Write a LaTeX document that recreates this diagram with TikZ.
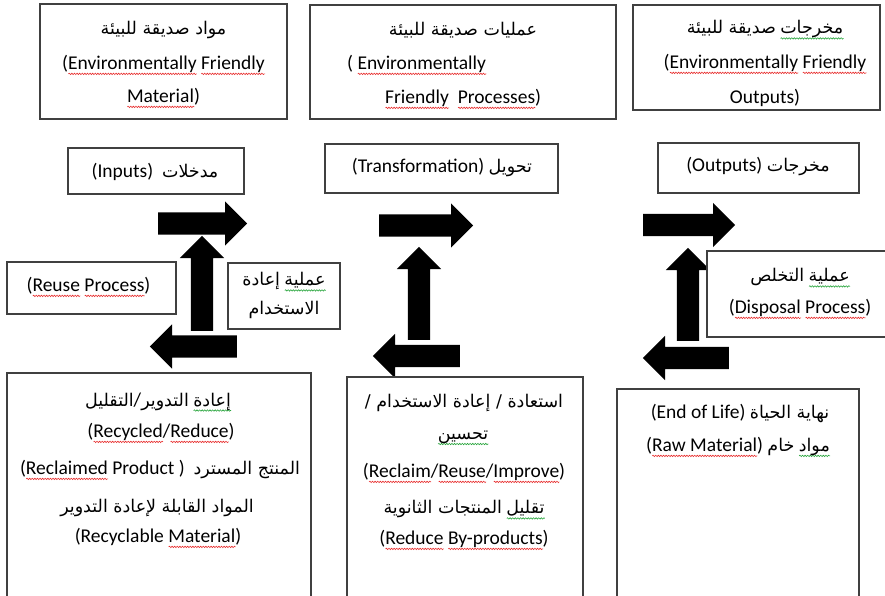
\documentclass[tikz,border=0pt]{standalone}
\usepackage{fontspec}
\setmainfont{Carlito}
\newfontfamily\arabicfont[Script=Arabic]{DejaVu Sans}
\TeXXeTstate=1
\usetikzlibrary{shapes.arrows,decorations.pathmorphing}

\definecolor{wavered}{RGB}{232,45,45}
\definecolor{wavegreen}{RGB}{40,165,60}
\definecolor{edge}{RGB}{64,64,64}

% wavy proof-reading underline below a word
\newsavebox\wavebox
\newlength\wavelen
\newcommand\wavy[2]{\sbox\wavebox{#2}\setlength\wavelen{\wd\wavebox}%
  \hbox{\rlap{\tikz[baseline=0pt]\draw[#1,line width=0.6pt,decorate,
      decoration={snake,amplitude=0.7pt,segment length=2.6pt}]
      (0pt,-4.5pt) -- (\wavelen,-4.5pt);}\usebox\wavebox}}
\newcommand\rw[1]{\wavy{wavered}{#1}}
\newcommand\gw[1]{\wavy{wavegreen}{#1}}
% right-to-left Arabic run
\newcommand\AR[1]{{\arabicfont\fontsize{17.5}{20}\selectfont\beginR #1\endR}}

\begin{document}
\begin{tikzpicture}[x=1pt,y=-1pt,
  box/.style={draw=edge,line width=1.1pt,fill=white,inner sep=0pt},
  txt/.style={inner sep=0pt,font=\fontsize{19.5}{23}\selectfont},
  blockarrow/.style={single arrow,fill=black,draw=none,inner sep=11pt,
    minimum width=0pt,single arrow head extend=11pt,single arrow head indent=0pt,
    anchor=tail}]
\useasboundingbox (0,0) rectangle (885,595);

% block arrows of the three loops, placed by their tails
\node[blockarrow,minimum height=89pt] (r1) at (158,223.5) {};
\node[blockarrow,minimum height=95pt,shape border rotate=90] (u1) at (202,331) {};
\node[blockarrow,minimum height=87pt,shape border rotate=180] (l1) at (237,346.5) {};
\node[blockarrow,minimum height=94pt] (r2) at (379,225.5) {};
\node[blockarrow,minimum height=93pt,shape border rotate=90] (u2) at (419,340) {};
\node[blockarrow,minimum height=87pt,shape border rotate=180] (l2) at (460,356) {};
\node[blockarrow,minimum height=92pt] (r3) at (643,225) {};
\node[blockarrow,minimum height=93pt,shape border rotate=90] (u3) at (688,341) {};
\node[blockarrow,minimum height=86pt,shape border rotate=180] (l3) at (729,358) {};

% frames
\node[box,minimum width=247pt,minimum height=115pt] (material) at (163.5,61.5) {};
\node[box,minimum width=306pt,minimum height=114pt] (processes) at (463,62) {};
\node[box,minimum width=247pt,minimum height=105pt] (outputsgreen) at (756.5,57.5) {};
\node[box,minimum width=176pt,minimum height=46pt] (inputs) at (156,171) {};
\node[box,minimum width=233pt,minimum height=49pt] (transform) at (441.5,168.5) {};
\node[box,minimum width=201pt,minimum height=50pt] (outputs) at (758.5,168) {};
\node[box,minimum width=169pt,minimum height=52pt] (reuse) at (91.5,288) {};
\node[box,minimum width=112pt,minimum height=66pt] (reusear) at (284,296) {};
\node[box,minimum width=183pt,minimum height=86pt] (disposal) at (798.5,294) {};
\node[box,minimum width=304pt,minimum height=232pt] (recycle) at (159,489) {};
\node[box,minimum width=236pt,minimum height=228pt] (reclaim) at (465,491) {};
\node[box,minimum width=242pt,minimum height=216pt] (endlife) at (738,497) {};

% texts
\node[txt] (t1a) at (163.5,30) {\AR{مواد صديقة للبيئة}};
\node[txt] (t1b) at (163.5,65) {(\rw{Environmentally} \rw{Friendly}};
\node[txt] (t1c) at (163.5,98) {\rw{Material})};

\node[txt] (t2a) at (463,30) {\AR{عمليات صديقة للبيئة}};
\node[txt,anchor=west] (t2b) at (347,65) {( \rw{Environmentally}};
\node[txt,anchor=west] (t2c) at (385,99) {\rw{Friendly}\ \ \rw{Processes})};

\node[txt] (t3a) at (765,30) {\AR{صديقة للبيئة}\ \gw{\AR{مخرجات}}};
\node[txt] (t3b) at (765,64) {(\rw{Environmentally} \rw{Friendly}};
\node[txt] (t3c) at (765,98) {Outputs)};

\node[txt] (t4) at (155,172) {(Inputs)\ \ \AR{مدخلات}};
\node[txt] (t5) at (442,167) {(Transformation) \AR{تحويل}};
\node[txt] (t6) at (758,166) {(Outputs) \AR{مخرجات}};

\node[txt] (t7) at (88.5,287) {(\rw{Reuse} \rw{Process})};
\node[txt] (t8a) at (284,282) {\AR{إعادة}\ \gw{\AR{عملية}}};
\node[txt] (t8b) at (284,310) {\AR{الاستخدام}};

\node[txt] (t9a) at (800,278) {\AR{التخلص}\ \gw{\AR{عملية}}};
\node[txt] (t9b) at (800,309) {(\rw{Disposal} \rw{Process})};

\node[txt] (t10a) at (158,402) {\AR{التقليل}/\AR{التدوير}\ \gw{\AR{إعادة}}};
\node[txt] (t10b) at (161,433) {(\rw{Recycled}/\rw{Reduce})};
\node[txt] (t10c) at (160,470) {(\rw{Reclaimed} Product )\ \ \AR{المنتج المسترد}};
\node[txt] (t10d) at (157,508) {\AR{المواد القابلة لإعادة التدوير}};
\node[txt] (t10e) at (158,538) {(Recyclable \rw{Material})};

\node[txt] (t11a) at (464,403) {\AR{استعادة / إعادة الاستخدام /}};
\node[txt] (t11b) at (463,438) {\gw{\AR{تحسين}}};
\node[txt] (t11c) at (464,473) {(\rw{Reclaim}/\rw{Reuse}/\rw{Improve})};
\node[txt] (t11d) at (464,510) {\AR{المنتجات الثانوية}\ \gw{\AR{تقليل}}};
\node[txt] (t11e) at (464,540) {(\rw{Reduce} \rw{By-products})};

\node[txt] (t12a) at (740,413) {(End of Life) \AR{نهاية الحياة}};
\node[txt] (t12b) at (738,447) {(\rw{Raw Material}) \AR{خام}\ \gw{\AR{مواد}}};
\end{tikzpicture}
\end{document}
